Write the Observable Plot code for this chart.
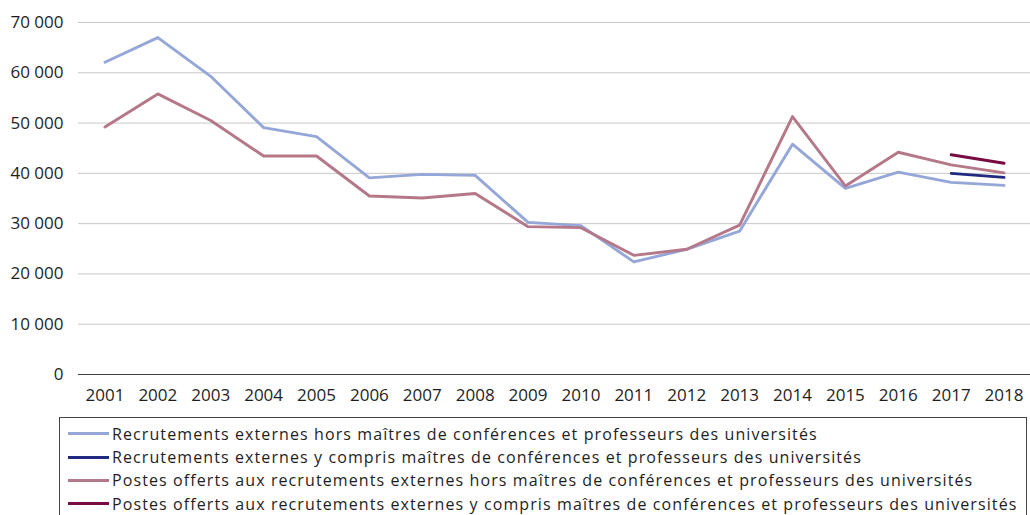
<!DOCTYPE html>
<html>
<head>
<meta charset="utf-8">
<script src="https://cdn.jsdelivr.net/npm/d3@7"></script>
<script src="https://cdn.jsdelivr.net/npm/@observablehq/plot@0.6"></script>
<style>
  body { margin: 0; background: #fff; font-family: "Open Sans", sans-serif; }
  #wrap { position: relative; width: 1030px; height: 515px; overflow: hidden; }
  #legend { position: absolute; left: 59px; top: 417px; width: 968px; height: 120px;
            border: 1px solid #444; box-sizing: border-box; padding-top: 4px; }
  .row { display: flex; align-items: center; height: 23.4px; font-size: 16px; letter-spacing: 1.1px; color: #1e1e1e; white-space: nowrap; }
  .sw { width: 41px; height: 3px; margin-left: 8px; margin-right: 3px; flex: none; }
</style>
</head>
<body>
<div id="wrap"><div id="chart"></div><div id="legend"></div></div>
<script>
const years = ["2001","2002","2003","2004","2005","2006","2007","2008","2009","2010","2011","2012","2013","2014","2015","2016","2017","2018"];
const recrutHors = [62100,67000,59300,49100,47300,39100,39800,39600,30250,29600,22400,24900,28500,45800,37000,40250,38200,37600];
const postesHors = [49200,55800,50500,43450,43450,35500,35100,36000,29400,29200,23700,24900,29700,51300,37500,44200,41700,40100];
const recrutYCompYears = ["2017","2018"];
const recrutYComp = [40000,39200];
const postesYComp = [43700,42000];
const seriesNames = [
  "Recrutements externes hors maîtres de conférences et professeurs des universités",
  "Recrutements externes y compris maîtres de conférences et professeurs des universités",
  "Postes offerts aux recrutements externes hors maîtres de conférences et professeurs des universités",
  "Postes offerts aux recrutements externes y compris maîtres de conférences et professeurs des universités"
];
const seriesColors = ["#95a6d8", "#1f2a80", "#b47888", "#780a44"];
const yTicks = [0,10000,20000,30000,40000,50000,60000,70000];

const rows = [];
years.forEach((y,i) => rows.push({year:y, value:recrutHors[i], s:seriesNames[0]}));
recrutYCompYears.forEach((y,i) => rows.push({year:y, value:recrutYComp[i], s:seriesNames[1]}));
years.forEach((y,i) => rows.push({year:y, value:postesHors[i], s:seriesNames[2]}));
recrutYCompYears.forEach((y,i) => rows.push({year:y, value:postesYComp[i], s:seriesNames[3]}));

const fmt = d => d3.format(",")(d).replace(/,/g, " ");

const chart = Plot.plot({
  width: 1030,
  height: 410,
  marginLeft: 78,
  marginRight: 0,
  marginTop: 22,
  marginBottom: 36,
  style: { fontFamily: "Open Sans, sans-serif", fontSize: "17px", color: "#1e1e1e", background: "#fff" },
  x: { type: "point", domain: years, padding: 0.5, round: false, label: null },
  y: { domain: [0, 70000], label: null },
  color: { domain: seriesNames, range: seriesColors },
  marks: [
    Plot.ruleY(yTicks.filter(d => d > 0), { stroke: "#c8c8c8", strokeWidth: 1 }),
    Plot.ruleY([0], { stroke: "#404040", strokeWidth: 1.2 }),
    Plot.axisY(yTicks, { tickSize: 0, tickPadding: 15, tickFormat: fmt, label: null, fontSize: 17 }),
    Plot.axisX({ tickSize: 0, tickPadding: 14, label: null, fontSize: 17 }),
    Plot.line(rows, { x: "year", y: "value", z: "s", stroke: "s", strokeWidth: 2.9, strokeLinejoin: "round" })
  ]
});
document.getElementById("chart").appendChild(chart);

const legend = document.getElementById("legend");
seriesNames.forEach((n, i) => {
  const r = document.createElement("div");
  r.className = "row";
  const sw = document.createElement("span");
  sw.className = "sw";
  sw.style.background = seriesColors[i];
  const t = document.createElement("span");
  t.textContent = n;
  r.appendChild(sw); r.appendChild(t);
  legend.appendChild(r);
});
</script>
</body>
</html>
